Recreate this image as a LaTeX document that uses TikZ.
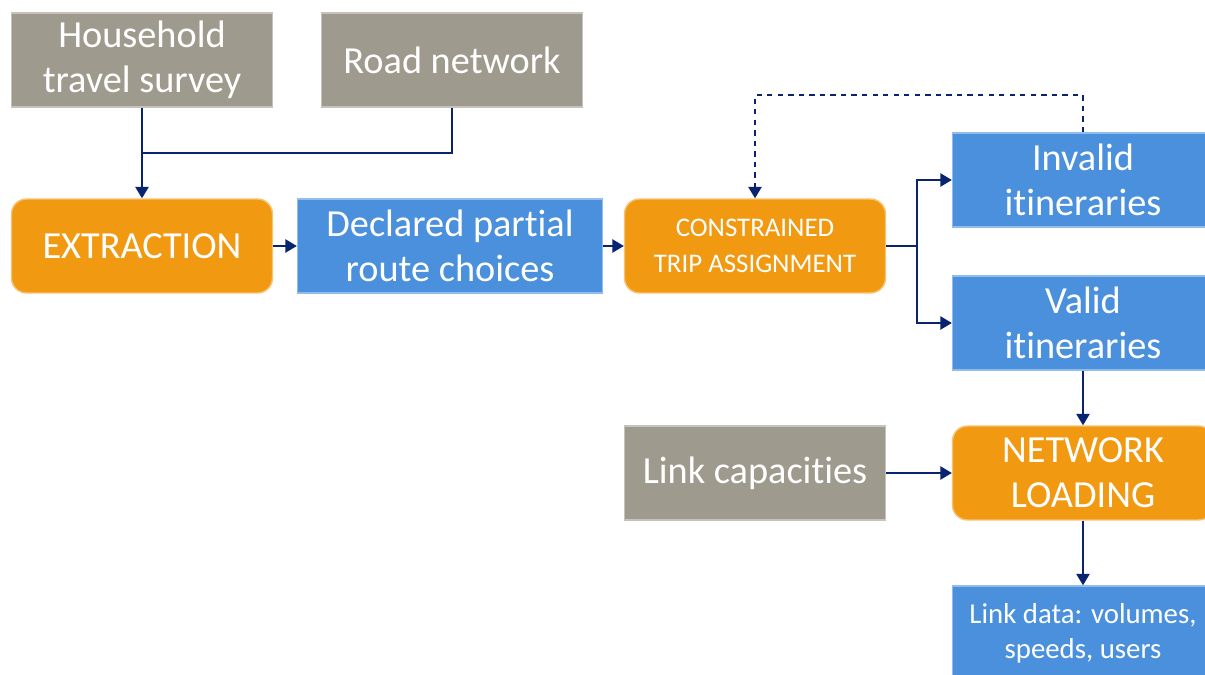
\documentclass[tikz,border=0pt]{standalone}
\usepackage{fontspec}
\setmainfont[Ligatures={NoCommon}]{Carlito}
\usetikzlibrary{arrows.meta}

\definecolor{inputgray}{RGB}{158,155,142}
\definecolor{procorange}{RGB}{242,153,18}
\definecolor{outblue}{RGB}{74,144,221}
\definecolor{linknavy}{RGB}{8,36,112}

\begin{document}
\begin{tikzpicture}[x=0.02cm, y=-0.02cm,
    source/.style ={rectangle, fill=inputgray, draw=inputgray!60!white, line width=0.8pt,
        text=white, align=center, inner sep=0pt, minimum width=5.22cm, minimum height=1.88cm,
        font=\fontsize{21.8}{25.5}\selectfont},
    process/.style ={source, fill=procorange, draw=procorange!60!white, rounded corners=0.3cm},
    result/.style ={source, fill=outblue, draw=outblue!60!white},
    flow/.style ={draw=linknavy, line width=1.1pt, -{Triangle[length=6.5pt, width=7.5pt]}}]
   \clip (0,0) rectangle (1205,675);

   \node[source] (house) at (142,60) {Household\\travel survey};
   \node[source] (road) at (452,60) {Road network};
   \node[process] (extract) at (142,246) {EXTRACTION};
   \node[result, minimum width=6.1cm] (declared) at (450,246) {Declared partial\\route choices};
   \node[process, font=\fontsize{15.3}{20.3}\selectfont] (assign) at (755,246) {CONSTRAINED\\TRIP ASSIGNMENT};
   \node[result] (invalid) at (1083,180) {Invalid\\itineraries};
   \node[result] (valid) at (1083,323) {Valid\\itineraries};
   \node[source] (capacity) at (755,473) {Link capacities};
   \node[process] (loading) at (1083,473) {NETWORK\\LOADING};
   \node[result, font=\fontsize{16.4}{20}\selectfont] (linkdata) at (1083,633) {Link data: volumes,\\speeds,\ users};

   \coordinate (join) at (142,153);
   \coordinate (split) at (917,246);
   \coordinate (back) at (755,95);

   \draw[flow, -] (road.south) |- (join);
   \draw[flow] (house.south) to (extract.north);
   \draw[flow] (extract.east) to (declared.west);
   \draw[flow] (declared.east) to (assign.west);

   \draw[flow, -] (assign.east) to (split);
   \draw[flow] (split) |- (invalid.west);
   \draw[flow] (split) |- (valid.west);
   \draw[flow, dashed] (invalid.north) |- (back) to (assign.north);

   \draw[flow] (valid.south) to (loading.north);
   \draw[flow] (capacity.east) to (loading.west);
   \draw[flow] (loading.south) to (linkdata.north);

 \end{tikzpicture}
\end{document}
